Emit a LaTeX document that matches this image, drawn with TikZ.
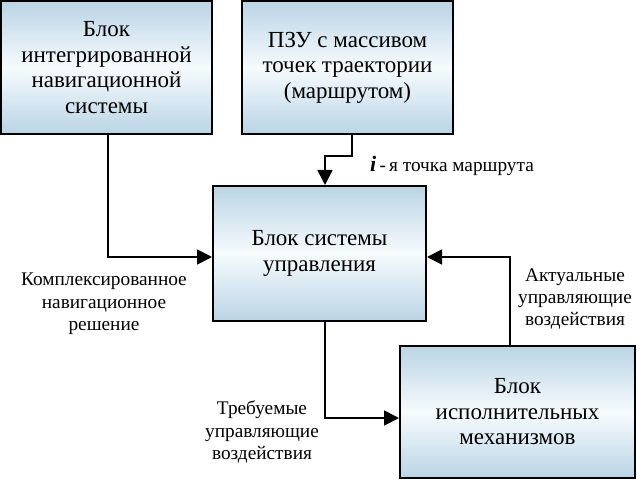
\documentclass[tikz,border=0pt]{standalone}
\usepackage{fontspec}
\setmainfont{Liberation Serif}
\usetikzlibrary{arrows.meta}
\definecolor{boxblue}{RGB}{186,212,229}
\definecolor{boxwhite}{RGB}{246,251,253}
\tikzset{
  box/.style={draw=black, line width=2pt, top color=boxblue, bottom color=boxblue, middle color=boxwhite,
    align=center, font=\fontsize{23}{25.5}\selectfont, inner sep=0pt},
  conn/.style={draw=black, line width=1.8pt, -{Triangle[length=15pt,width=15pt]}},
  lbl/.style={align=center, font=\fontsize{19.3}{22.3}\selectfont, inner sep=0pt}
}
\begin{document}
\begin{tikzpicture}[x=1pt,y=-1pt]
\useasboundingbox (0,0) rectangle (637,481);
\node[box, minimum width=211pt, minimum height=133pt] (b1) at (106.5,67.5)
  {Блок\\интегрированной\\навигационной\\системы};
\node[box, minimum width=211pt, minimum height=133pt] (b2) at (347.5,67.5)
  {ПЗУ с массивом\\точек траектории\\(маршрутом)};
\node[box, minimum width=213pt, minimum height=135pt] (b3) at (319.5,253.5)
  {Блок системы\\управления};
\node[box, minimum width=235pt, minimum height=132pt] (b4) at (517.5,412)
  {Блок\\исполнительных\\механизмов};

\draw[conn] ([xshift=1.5pt]b1.south) |- ([yshift=-3.5pt]b3.west);
\draw[conn] ([xshift=4.5pt]b2.south) -- ++(0,21) -| ([xshift=5.5pt]b3.north);
\draw[conn] ([xshift=5.5pt]b3.south) |- ([yshift=-6pt]b4.west);
\draw[conn] ([xshift=-7.5pt]b4.north) |- ([yshift=-3.5pt]b3.east);

\node[lbl] (l1) at (104,304) {Комплексированное\\навигационное\\решение};
\node[lbl, anchor=west] (l2) at (370,166) {\textbf{\textit{\fontsize{22}{22}\selectfont i}}\,-\,я точка маршрута};
\node[lbl] (l3) at (575,299) {Актуальные\\управляющие\\воздействия};
\node[lbl] (l4) at (262,432) {Требуемые\\управляющие\\воздействия};
\end{tikzpicture}
\end{document}
